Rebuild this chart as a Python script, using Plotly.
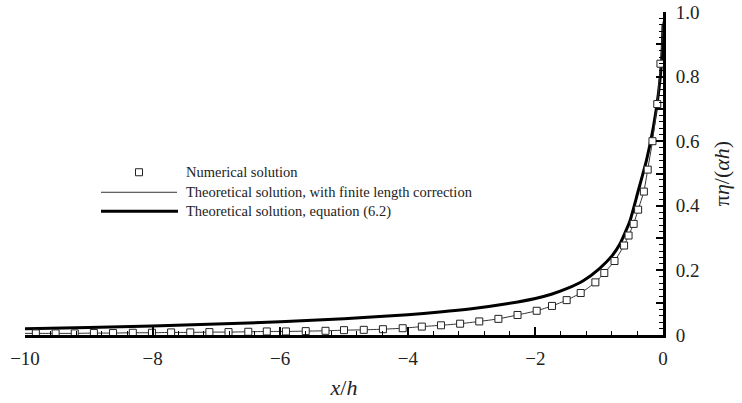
import plotly.graph_objects as go

# Numerical solution (squares)
num_x = [-9.83, -9.52, -9.22, -8.92, -8.62, -8.31, -8.01, -7.71, -7.41, -7.11,
         -6.81, -6.50, -6.21, -5.91, -5.60, -5.29, -5.00, -4.69, -4.39, -4.08,
         -3.78, -3.48, -3.18, -2.88, -2.58, -2.28, -1.98, -1.74, -1.51, -1.29,
         -1.06, -0.92, -0.76, -0.61, -0.54, -0.46, -0.39, -0.30, -0.24, -0.165,
         -0.09, -0.04]
num_y = [0.005, 0.005, 0.005, 0.006, 0.006, 0.007, 0.007, 0.008, 0.008, 0.009,
         0.009, 0.010, 0.011, 0.011, 0.012, 0.013, 0.015, 0.016, 0.018, 0.021,
         0.026, 0.030, 0.035, 0.042, 0.050, 0.062, 0.075, 0.090, 0.108, 0.130,
         0.163, 0.192, 0.229, 0.277, 0.308, 0.344, 0.388, 0.444, 0.512, 0.600,
         0.715, 0.840]

# Theoretical solution with finite length correction (thin line)
corr_x = [-10.0, -9.83, -9.52, -9.22, -8.92, -8.62, -8.31, -8.01, -7.71, -7.41,
          -7.11, -6.81, -6.50, -6.21, -5.91, -5.60, -5.29, -5.00, -4.69, -4.39,
          -4.08, -3.78, -3.48, -3.18, -2.88, -2.58, -2.28, -1.98, -1.74, -1.51,
          -1.29, -1.06, -0.92, -0.76, -0.61, -0.54, -0.46, -0.39, -0.30, -0.24,
          -0.165, -0.09, -0.04, -0.01, 0.0]
corr_y = [0.005, 0.005, 0.005, 0.005, 0.006, 0.006, 0.007, 0.007, 0.008, 0.008,
          0.009, 0.009, 0.010, 0.011, 0.011, 0.012, 0.013, 0.015, 0.016, 0.018,
          0.021, 0.026, 0.030, 0.035, 0.042, 0.050, 0.062, 0.075, 0.090, 0.108,
          0.130, 0.163, 0.192, 0.229, 0.277, 0.308, 0.344, 0.388, 0.444, 0.512,
          0.600, 0.715, 0.840, 0.930, 0.970]

# Theoretical solution, equation (6.2) (thick line)
eq_x = [-10.0, -9.0, -8.0, -7.0, -6.0, -5.0, -4.0, -3.5, -3.0, -2.5, -2.0,
        -1.75, -1.5, -1.25, -1.0, -0.8, -0.68, -0.52, -0.39, -0.26, -0.15,
        -0.07, -0.02, 0.0]
eq_y = [0.019, 0.023, 0.028, 0.034, 0.041, 0.050, 0.063, 0.071, 0.081, 0.095,
        0.113, 0.126, 0.144, 0.168, 0.205, 0.245, 0.280, 0.352, 0.445, 0.540,
        0.645, 0.750, 0.850, 0.960]

x_ticks = [-10, -8, -6, -4, -2, 0]
x_ticktext = ["\u221210", "\u22128", "\u22126", "\u22124", "\u22122", "0"]
y_ticks = [0, 0.1, 0.2, 0.3, 0.4, 0.5, 0.6, 0.7, 0.8, 0.9, 1.0]
y_ticktext = ["0", "", "0.2", "", "0.4", "", "0.6", "", "0.8", "", "1.0"]

legend_labels = ["Numerical solution",
                 "Theoretical solution, with finite length correction",
                 "Theoretical solution, equation (6.2)"]

FONT = "Liberation Serif"

fig = go.Figure()
fig.add_trace(go.Scatter(x=eq_x, y=eq_y, mode="lines",
                         line=dict(color="black", width=3, shape="spline",
                                   smoothing=0.5),
                         showlegend=False))
fig.add_trace(go.Scatter(x=corr_x, y=corr_y, mode="lines",
                         line=dict(color="#333333", width=1, shape="spline",
                                   smoothing=0.5),
                         showlegend=False))
fig.add_trace(go.Scatter(x=num_x, y=num_y, mode="markers",
                         marker=dict(symbol="square", size=7, color="white",
                                     line=dict(color="#222222", width=1)),
                         showlegend=False))

# manual legend (paper coordinates; pixel values measured on the reference)
W, H = 638.0, 322.5
def px(xp):
    return (xp - 25) / W
def py(yp):
    return (334.5 - yp) / H

shapes = [
    dict(type="rect", xref="paper", yref="paper",
         x0=px(135.5), x1=px(142.5), y0=py(175.5), y1=py(168.5),
         line=dict(color="#222222", width=1), fillcolor="white"),
    dict(type="line", xref="paper", yref="paper",
         x0=px(101), x1=px(177), y0=py(192), y1=py(192),
         line=dict(color="#333333", width=1)),
    dict(type="line", xref="paper", yref="paper",
         x0=px(101), x1=px(178), y0=py(211), y1=py(211),
         line=dict(color="black", width=3)),
]
annotations = []
for lbl, yy in zip(legend_labels, [172, 192, 211]):
    annotations.append(dict(xref="paper", yref="paper", x=px(184), y=py(yy),
                            text=lbl, showarrow=False, xanchor="left",
                            yanchor="middle",
                            font=dict(family=FONT, size=14.5, color="#222222")))

fig.update_layout(
    width=742, height=403,
    margin=dict(l=25, r=79, t=12, b=68, pad=0, autoexpand=False),
    paper_bgcolor="white", plot_bgcolor="white",
    shapes=shapes, annotations=annotations,
    font=dict(family=FONT, color="#222222"),
    xaxis=dict(range=[-10, 0], tickmode="array", tickvals=x_ticks,
               ticktext=x_ticktext, ticks="inside", ticklen=8, tickwidth=2,
               tickcolor="black", showgrid=False, zeroline=False,
               showline=True, linecolor="black", linewidth=3,
               automargin=False, ticklabeloverflow="allow",
               tickfont=dict(family=FONT, size=19, color="#222222"),
               ticklabelstandoff=4,
               minor=dict(tickmode="linear", tick0=-10, dtick=0.4,
                          ticks="inside", ticklen=4, tickwidth=1,
                          tickcolor="black", showgrid=False),
               title=dict(text="<i>x</i>/<i>h</i>", standoff=12,
                          font=dict(family=FONT, size=22, color="#222222"))),
    yaxis=dict(range=[0, 1], side="right", tickmode="array", tickvals=y_ticks,
               ticktext=y_ticktext, ticks="inside", ticklen=7, tickwidth=2,
               tickcolor="black", showgrid=False, zeroline=False,
               showline=True, linecolor="black", linewidth=3,
               automargin=False, ticklabeloverflow="allow",
               tickfont=dict(family=FONT, size=19, color="#222222"),
               ticklabelstandoff=6,
               minor=dict(tickmode="linear", tick0=0, dtick=0.02,
                          ticks="inside", ticklen=4, tickwidth=1,
                          tickcolor="black", showgrid=False),
               title=dict(text="\u03c0<i>\u03b7</i>/(<i>\u03b1h</i>)", standoff=15,
                          font=dict(family=FONT, size=22, color="#222222"))),
)

# remove the default 8px page margin so the figure fills the window exactly
fig.write_html("out.html",
               config={"displayModeBar": False, "staticPlot": True},
               post_script="document.body.style.margin='0px';"
                           "document.body.style.overflow='hidden';")
